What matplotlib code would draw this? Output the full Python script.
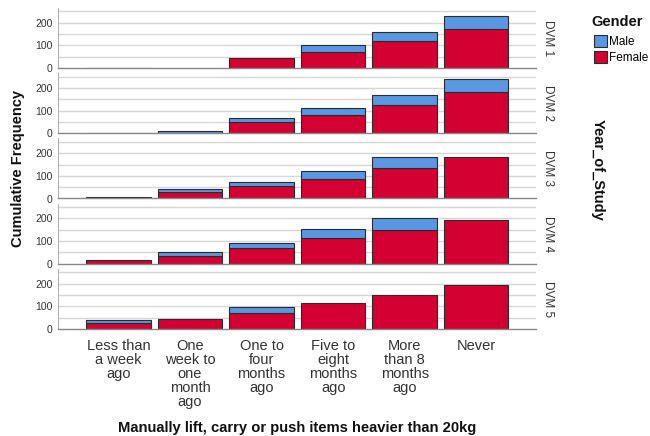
import matplotlib
matplotlib.use("Agg")
import matplotlib.pyplot as plt
from matplotlib.patches import Patch

plt.rcParams['font.family'] = ['Liberation Sans', 'DejaVu Sans']

categories = ["Less than\na week\nago", "One\nweek to\none\nmonth\nago", "One to\nfour\nmonths\nago",
              "Five to\neight\nmonths\nago", "More\nthan 8\nmonths\nago", "Never"]
years = ["DVM 1", "DVM 2", "DVM 3", "DVM 4", "DVM 5"]
female = [
    [2, 0, 43, 72, 118, 172],
    [2, 1, 50, 80, 124, 182],
    [5, 28, 53, 86, 133, 182],
    [16, 34, 68, 114, 148, 194],
    [28, 44, 71, 116, 149, 194],
]
male = [
    [0, 0, 0, 30, 40, 56],
    [0, 10, 17, 31, 43, 59],
    [0, 12, 19, 35, 49, 0],
    [0, 16, 24, 38, 52, 0],
    [12, 0, 24, 0, 0, 0],
]
yticks = [0, 100, 200]

W, H = 650, 436
fig = plt.figure(figsize=(W / 100, H / 100), dpi=100)

RED = "#D50032"
BLUE = "#5897E2"
EDGE = "#2b2b2b"
x = list(range(len(categories)))

left_px, right_px = 58, 536
panel_h = 60
for i, yr in enumerate(years):
    bottom_px = 68 + 65.25 * i
    ax = fig.add_axes([left_px / W, 1 - bottom_px / H, (right_px - left_px) / W, panel_h / H])
    f = female[i]
    m = male[i]
    fx = [xi for xi, v in zip(x, f) if v > 0]
    fv = [v for v in f if v > 0]
    mx = [xi for xi, v in zip(x, m) if v > 0]
    mv = [v for v in m if v > 0]
    mb = [f[xi] for xi in mx]
    ax.bar(fx, fv, width=0.9, color=RED, edgecolor=EDGE, linewidth=0.8, zorder=3)
    ax.bar(mx, mv, width=0.9, bottom=mb, color=BLUE, edgecolor=EDGE, linewidth=0.8, zorder=3)
    ax.set_xlim(-0.845, 5.835)
    ax.set_ylim(0, 265)
    for g in [50, 100, 150, 200, 250]:
        ax.axhline(g, color="#d6d6d6", linewidth=1.0, zorder=1)
    ax.set_yticks(yticks)
    ax.set_yticklabels([str(t) for t in yticks], fontsize=7.5, color="#333333")
    ax.tick_params(axis='y', length=0, pad=4)
    for s in ["top", "right"]:
        ax.spines[s].set_visible(False)
    ax.spines["left"].set_color("#b0b0b0")
    ax.spines["bottom"].set_color("#888888")
    ax.spines["left"].set_linewidth(0.8)
    ax.spines["bottom"].set_linewidth(1.0)
    ax.spines["bottom"].set_zorder(4)
    ax.set_facecolor("white")
    ax.text(1.012, 0.5, yr, transform=ax.transAxes, rotation=-90, va="center", ha="left",
            fontsize=8.5, color="#333333")
    if i < len(years) - 1:
        ax.set_xticks([])
    else:
        ax.set_xticks(x)
        ax.set_xticklabels(categories, fontsize=10.5, color="#333333", linespacing=1.0)
        ax.tick_params(axis='x', length=0, pad=7)

fig.text(18 / W, 1 - 168 / H, "Cumulative Frequency", rotation=90, va="center", ha="center",
         fontsize=10.5, fontweight="bold", color="#111111")
fig.text(598 / W, 1 - 170 / H, "Year_of_Study", rotation=-90, va="center", ha="center",
         fontsize=10.5, fontweight="bold", color="#111111")
fig.text(297 / W, 1 - 428 / H, "Manually lift, carry or push items heavier than 20kg", va="center",
         ha="center", fontsize=10.6, fontweight="bold", color="#111111")

fig.text(617 / W, 1 - 22 / H, "Gender", va="center", ha="center",
         fontsize=10.5, fontweight="bold", color="#111111")
handles = [Patch(facecolor=BLUE, edgecolor=EDGE, linewidth=0.8, label="Male"),
           Patch(facecolor=RED, edgecolor=EDGE, linewidth=0.8, label="Female")]
fig.legend(handles=handles, loc="upper left", bbox_to_anchor=(594 / W, 1 - 35 / H), frameon=False,
           fontsize=8.5, handlelength=1.1, handleheight=1.2, handletextpad=0.15, labelspacing=0.25,
           borderpad=0, borderaxespad=0)

fig.savefig("out.png", dpi=100, facecolor="white")
